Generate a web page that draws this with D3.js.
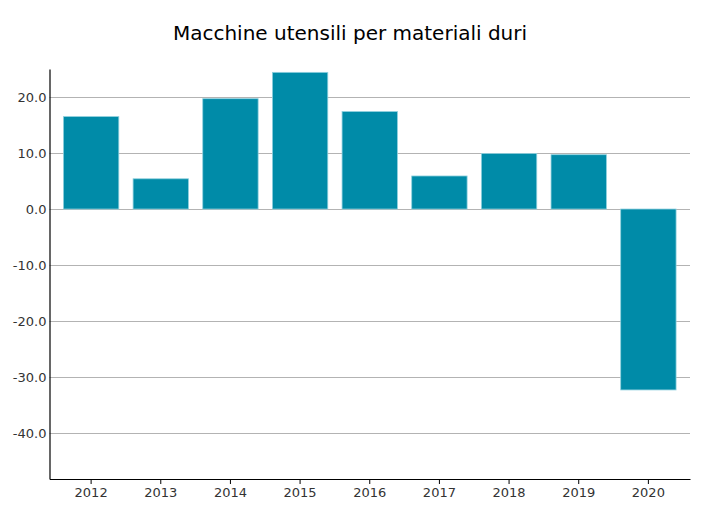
<!DOCTYPE html>
<html>
<head>
<meta charset="utf-8">
<script src="https://cdn.jsdelivr.net/npm/d3@7"></script>
<style>
  body { margin: 0; background: #fff; }
  text { font-family: "DejaVu Sans", sans-serif; }
</style>
</head>
<body>
<div id="chart"></div>
<script>
// Dati
const years = ['2012', '2013', '2014', '2015', '2016', '2017', '2018', '2019', '2020'];
const values = [16.5, 5.4, 19.7, 24.4, 17.4, 5.9, 9.9, 9.7, -32.3];
const yTicks = [20, 10, 0, -10, -20, -30, -40];

const width = 710;
const height = 519;
const margin = { top: 69, right: 20, bottom: 40, left: 49.5 };

const svg = d3.select('#chart')
  .append('svg')
  .attr('width', width)
  .attr('height', height);

svg.append('text')
  .attr('x', 350)
  .attr('y', 40)
  .attr('text-anchor', 'middle')
  .attr('font-size', 20)
  .attr('fill', '#000')
  .text('Macchine utensili per materiali duri');

const x = d3.scaleBand()
  .domain(years)
  .range([margin.left, width - margin.right])
  .paddingInner(0.205)
  .paddingOuter(0.2);

const y = d3.scaleLinear()
  .domain([-48.2, 25])
  .range([height - margin.bottom, margin.top]);

// griglia orizzontale
svg.append('g')
  .selectAll('line')
  .data(yTicks)
  .enter()
  .append('line')
  .attr('x1', margin.left)
  .attr('x2', width - margin.right)
  .attr('y1', d => Math.round(y(d)) + 0.5)
  .attr('y2', d => Math.round(y(d)) + 0.5)
  .attr('stroke', '#b3b3b3')
  .attr('stroke-width', 1);

// barre
svg.append('g')
  .selectAll('rect')
  .data(values)
  .enter()
  .append('rect')
  .attr('x', (d, i) => x(years[i]))
  .attr('width', x.bandwidth())
  .attr('y', d => y(Math.max(0, d)))
  .attr('height', d => Math.abs(y(d) - y(0)))
  .attr('fill', '#008ba8')
  .attr('stroke', '#8fd0de')
  .attr('stroke-width', 0.8);

// asse y (trattino normale al posto del segno meno unicode)
const fmt = d => d.toFixed(1);
const yAxis = svg.append('g')
  .attr('transform', `translate(${margin.left},0)`)
  .call(d3.axisLeft(y).tickValues(yTicks).tickSize(0).tickPadding(3).tickFormat(fmt));
yAxis.select('.domain').attr('stroke', '#000').attr('stroke-width', 1.2);
yAxis.selectAll('text').attr('font-size', 13).attr('fill', '#333')
  .attr('font-family', '"DejaVu Sans", sans-serif');

// asse x
const xAxis = svg.append('g')
  .attr('transform', `translate(0,${height - margin.bottom})`)
  .call(d3.axisBottom(x).tickSize(5).tickSizeOuter(0).tickPadding(4));
xAxis.select('.domain').attr('stroke', '#000').attr('stroke-width', 1.2);
xAxis.selectAll('.tick line').attr('stroke', '#000');
xAxis.selectAll('text').attr('font-size', 13).attr('fill', '#333')
  .attr('font-family', '"DejaVu Sans", sans-serif');
</script>
</body>
</html>
